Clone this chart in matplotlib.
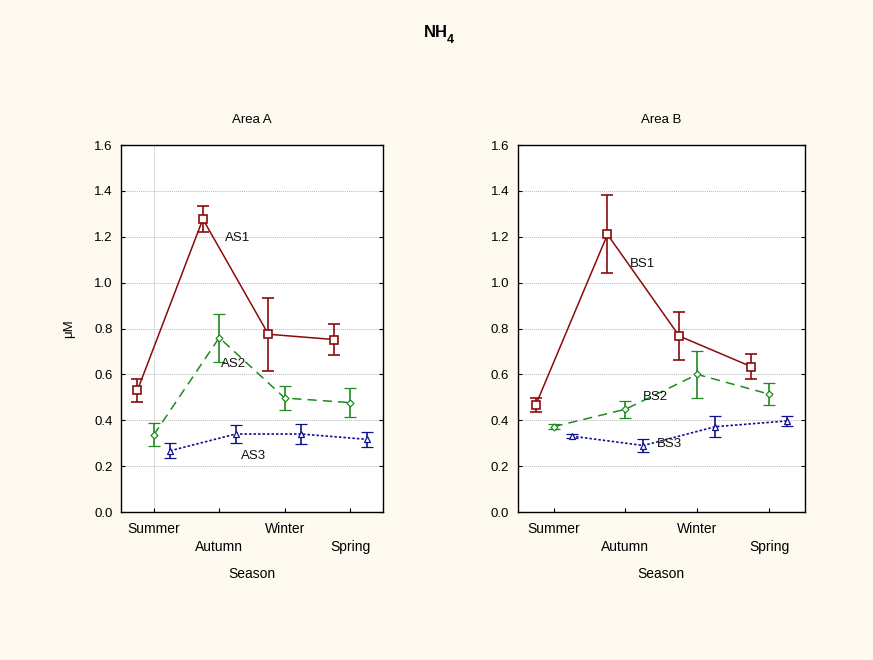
# NH4 by season, two areas, three stations each

import numpy as np
import matplotlib
matplotlib.use('Agg')
import matplotlib.pyplot as plt

plt.rcParams['font.family'] = ['Liberation Sans', 'DejaVu Sans']

seasons = ['Summer', 'Autumn', 'Winter', 'Spring']

# Area A
as1 = [0.53, 1.277, 0.775, 0.752]
as1_err = [0.05, 0.055, 0.16, 0.068]
as2 = [0.336, 0.760, 0.497, 0.477]
as2_err = [0.05, 0.105, 0.052, 0.063]
as3 = [0.267, 0.340, 0.340, 0.317]
as3_err = [0.033, 0.041, 0.045, 0.033]

# Area B
bs1 = [0.466, 1.21, 0.767, 0.634]
bs1_err = [0.03, 0.17, 0.105, 0.053]
bs2 = [0.372, 0.448, 0.600, 0.514]
bs2_err = [0.011, 0.037, 0.102, 0.049]
bs3 = [0.331, 0.290, 0.372, 0.397]
bs3_err = [0.01, 0.028, 0.046, 0.021]

red = '#8b0a0a'
green = '#1f8a1f'
blue = '#10108f'
bg = '#fefaef'

fig = plt.figure(figsize=(8.73, 6.6), dpi=100, facecolor=bg)
axA = fig.add_axes([0.1386, 0.2242, 0.3001, 0.5561])
axB = fig.add_axes([0.593, 0.2242, 0.3291, 0.5561])

x = np.arange(4)


def draw_panel(ax, s1, e1, s2, e2, s3, e3, names, label_pos, title):
    kw = dict(capsize=4, elinewidth=1.2, capthick=1.2, markerfacecolor='white')
    ax.errorbar(x - 0.25, s1, yerr=e1, color=red, marker='s', markersize=5.5,
                linestyle='-', linewidth=1.1, markeredgewidth=1.2, **kw)
    ax.errorbar(x, s2, yerr=e2, color=green, marker='D', markersize=3.5,
                linestyle=(0, (6, 4)), linewidth=1.1, markeredgewidth=0.9, **kw)
    ax.errorbar(x + 0.25, s3, yerr=e3, color=blue, marker='^', markersize=5,
                linestyle=(0, (1.5, 1.2)), linewidth=1.2, markeredgewidth=0.9, **kw)
    for name, (lx, ly) in zip(names, label_pos):
        ax.text(lx, ly, name, fontsize=9.5, ha='center', va='center', color='#111111')
    ax.set_xlim(-0.5, 3.5)
    ax.set_ylim(0, 1.6)
    ax.set_yticks(np.arange(0, 1.61, 0.2))
    ax.set_yticklabels(['%.1f' % v for v in np.arange(0, 1.61, 0.2)], fontsize=9.5)
    ax.set_xticks(x)
    ax.set_xticklabels([])
    for i, s in enumerate(seasons):
        yy = -0.046 if i % 2 == 0 else -0.095
        ax.text(i, yy, s, fontsize=10, ha='center', va='center',
                transform=ax.get_xaxis_transform())
    ax.text(0.5, -0.169, 'Season', fontsize=10, ha='center', va='center',
            transform=ax.transAxes)
    ax.set_title(title, fontsize=9.5, pad=16)
    ax.grid(axis='y', color='#b8b8b8', linestyle=(0, (1, 1)), linewidth=0.7)
    ax.set_axisbelow(True)
    ax.tick_params(direction='in', length=3, right=True, width=0.8, colors='black')
    ax.tick_params(axis='y', pad=6)
    for sp in ax.spines.values():
        sp.set_linewidth(1.0)


draw_panel(axA, as1, as1_err, as2, as2_err, as3, as3_err,
           ['AS1', 'AS2', 'AS3'], [(1.28, 1.194), (1.22, 0.645), (1.53, 0.244)], 'Area A')
axA.axvline(0, color='#b8b8b8', linestyle=(0, (1, 1)), linewidth=0.7, zorder=0)
axA.set_ylabel('\u03bcM', fontsize=9.5, labelpad=14)

draw_panel(axB, bs1, bs1_err, bs2, bs2_err, bs3, bs3_err,
           ['BS1', 'BS2', 'BS3'], [(1.24, 1.081), (1.42, 0.501), (1.61, 0.296)], 'Area B')

fig.text(0.4995, 0.951, 'NH', fontsize=12, fontweight='bold', ha='center', va='center')
fig.text(0.5155, 0.94, '4', fontsize=9, fontweight='bold', ha='center', va='center')

fig.savefig('out.png', dpi=100, facecolor=bg)
